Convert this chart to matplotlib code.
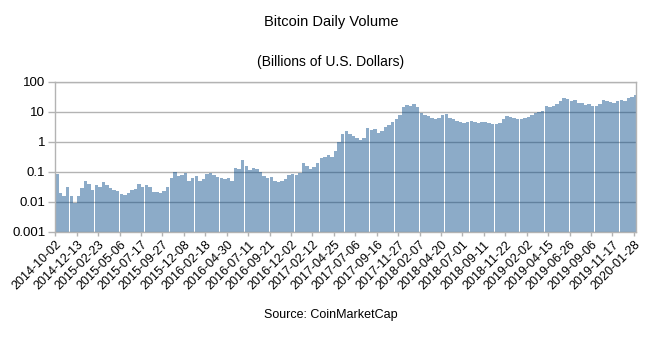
import numpy as np
import matplotlib
matplotlib.use("Agg")
import matplotlib.pyplot as plt
import matplotlib.dates as mdates

plt.rcParams['font.family'] = ['Liberation Sans', 'DejaVu Sans']

# ---- data (12-day periods starting 2014-10-02), billions of USD ----
start_date = "2014-10-02"
period_days = 12
volume = [
    0.085, 0.02, 0.016, 0.03, 0.015, 0.009, 0.015, 0.028, 0.05, 0.04,
    0.025, 0.035, 0.03, 0.045, 0.035, 0.028, 0.024, 0.022, 0.018, 0.017,
    0.019, 0.025, 0.026, 0.04, 0.03, 0.035, 0.03, 0.021, 0.021, 0.02,
    0.022, 0.032, 0.06, 0.1, 0.07, 0.075, 0.09, 0.05, 0.06, 0.07,
    0.05, 0.055, 0.085, 0.09, 0.08, 0.065, 0.06, 0.055, 0.06, 0.05,
    0.13, 0.12, 0.25, 0.15, 0.11, 0.13, 0.12, 0.1, 0.07, 0.06,
    0.065, 0.05, 0.045, 0.05, 0.055, 0.08, 0.085, 0.08, 0.09, 0.2,
    0.15, 0.12, 0.14, 0.2, 0.28, 0.3, 0.35, 0.3, 0.5, 1.0,
    1.8, 2.3, 1.8, 1.5, 1.3, 1.1, 1.3, 2.8, 2.5, 2.6,
    2.0, 2.2, 3.0, 3.5, 4.5, 5.5, 8, 14, 17, 15,
    18, 14, 9, 8, 7, 6, 5.5, 6, 8, 8.5,
    6, 5.5, 5, 4.5, 4.2, 4.5, 4.8, 4.5, 4.3, 4.5,
    4.4, 4.2, 3.9, 3.8, 4.2, 5.5, 7, 6.5, 6, 5.8,
    5.6, 6, 6.5, 8, 9, 10, 10.5, 16, 14, 15,
    18, 22, 28, 27, 22, 25, 20, 19, 17, 18,
    16, 15, 18, 25, 22, 21, 20, 22, 25, 22,
    28, 30, 35,
]
tick_labels = [
    "2014-10-02", "2014-12-13", "2015-02-23", "2015-05-06", "2015-07-17",
    "2015-09-27", "2015-12-08", "2016-02-18", "2016-04-30", "2016-07-11",
    "2016-09-21", "2016-12-02", "2017-02-12", "2017-04-25", "2017-07-06",
    "2017-09-16", "2017-11-27", "2018-02-07", "2018-04-20", "2018-07-01",
    "2018-09-11", "2018-11-22", "2019-02-02", "2019-04-15", "2019-06-26",
    "2019-09-06", "2019-11-17", "2020-01-28",
]
y_ticks = [0.001, 0.01, 0.1, 1, 10, 100]
y_tick_labels = ["0.001", "0.01", "0.1", "1", "10", "100"]

# ---- figure ----
fig = plt.figure(figsize=(6.62, 3.42), dpi=100)
ax = fig.add_axes([55/662, 1 - 231.7/342, (636 - 55)/662, 150/342])

t0 = np.datetime64(start_date)
starts = np.array([mdates.date2num(t0 + np.timedelta64(period_days * i, 'D'))
                   for i in range(len(volume))])
vals = np.array(volume)
base = 0.001
ax.bar(starts, vals - base, bottom=base, width=period_days * 0.95, align='edge',
       color='#004586', alpha=0.45, linewidth=0, zorder=2)

ax.set_yscale('log')
ax.set_ylim(0.001, 100)
ax.set_yticks(y_ticks)
ax.set_yticklabels(y_tick_labels)
ax.yaxis.set_minor_locator(matplotlib.ticker.NullLocator())

tick_pos = [mdates.date2num(np.datetime64(s)) for s in tick_labels]
ax.set_xticks(tick_pos)
ax.set_xticklabels(tick_labels, rotation=45, ha='right', rotation_mode='anchor',
                   fontsize=9)
x0 = mdates.date2num(t0)
ax.set_xlim(x0 - 1, tick_pos[-1] + 7)

ax.grid(axis='y', color='#b3b3b3', linewidth=1, zorder=1)
ax.set_axisbelow(True)
for sp in ax.spines.values():
    sp.set_color('#b3b3b3')
    sp.set_linewidth(1)
ax.tick_params(axis='y', colors='#b3b3b3', labelcolor='black', labelsize=9.5,
               length=5, width=1, pad=2)
ax.tick_params(axis='x', colors='#b3b3b3', labelcolor='black', length=3,
               width=1, pad=2)

fig.text(0.5, 1 - 22/342, "Bitcoin Daily Volume", ha='center', va='center',
         fontsize=10.5)
fig.text(0.5, 1 - 62/342, "(Billions of U.S. Dollars)", ha='center',
         va='center', fontsize=10)
fig.text(0.5, 1 - 315/342, "Source: CoinMarketCap", ha='center', va='center',
         fontsize=9)

fig.savefig("out.png", dpi=100)
